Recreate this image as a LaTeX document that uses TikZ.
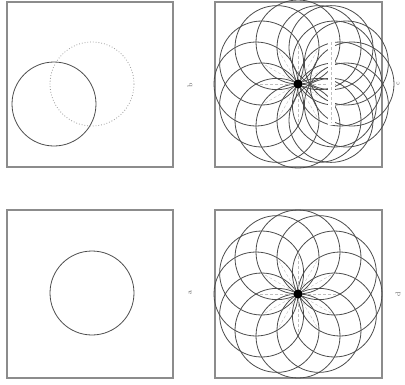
\documentclass[tikz,border=0pt]{standalone}
\usetikzlibrary{calc}
\begin{document}
\begin{tikzpicture}[x=1pt,y=-1pt,
  panel/.style={draw=black!45,line width=1.2pt},
  circ/.style={draw=black!70,line width=0.8pt},
  dotcirc/.style={draw=black!40,line width=0.8pt,dotted},
  spoke/.style={draw=black!25,line width=0.4pt,densely dashed},
  lab/.style={font=\fontsize{7}{7}\selectfont,text=black!65,rotate=90,inner sep=0pt}]
\useasboundingbox (0,0) rectangle (405,384);
% panels
\draw[panel] (7,2) rectangle (173,167);
\draw[panel] (215,2) rectangle (382,167);
\draw[panel] (7,210) rectangle (173,378);
\draw[panel] (215,210) rectangle (382,378);
% labels
\node[lab] (lb) at (190,85) {b};
\node[lab] (lc) at (398,84) {c};
\node[lab] (la) at (190,293) {a};
\node[lab] (ld) at (398,294) {d};
% top-left
\draw[circ] (54,104) circle (42);
\draw[dotcirc] (92,84) circle (42);
% bottom-left
\draw[circ] (92,293) circle (42);
% bottom-right rosette
\coordinate (cd) at (298,294);
\foreach \a in {0,30,...,330}{
  \draw[spoke] (cd) -- ++(\a:42);
  \draw[circ] (cd) ++(\a:42) circle (42);
}
\fill[black] (cd) circle (4.5);
% top-right rosette with shifted copies
\coordinate (cc) at (298,84);
\begin{scope}
\clip (200,-2) rectangle (395,175);
\foreach \a in {0,30,...,330}{
  \draw[spoke] (cc) -- ++(\a:42);
  \draw[circ] (cc) ++(\a:42) circle (42);
}
\foreach \a in {-60,-30,0,30,60}{
  \draw[circ] ($(cc)+(\a:42)+(12,0)$) circle (42);
}
\end{scope}
\fill[white] (328,40) rectangle (335,125);
\draw[black!25,densely dashed,line width=0.4pt] (331.5,42) -- (331.5,123);
\fill[black] (cc) circle (4.5);
\end{tikzpicture}
\end{document}
